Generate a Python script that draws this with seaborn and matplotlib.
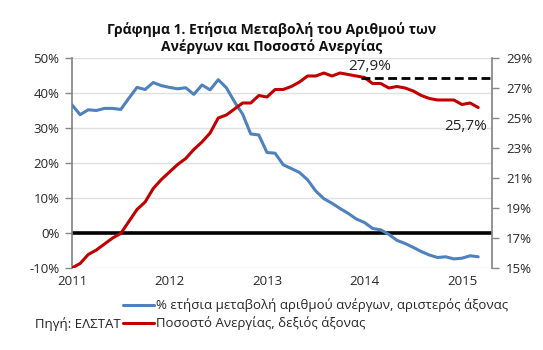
import matplotlib
matplotlib.use("Agg")
import matplotlib.pyplot as plt
import seaborn as sns
import pandas as pd
import numpy as np
from matplotlib.lines import Line2D

# ---------------- data ----------------
year_labels = ["2011", "2012", "2013", "2014", "2015"]
months = list(range(51))  # Jan 2011 .. Mar 2015

change_pct = [36.6, 33.8, 35.2, 35.0, 35.6, 35.6, 35.3, 38.5, 41.6, 41.0,
              43.0, 42.1, 41.6, 41.2, 41.5, 39.6, 42.3, 40.9, 43.8, 41.5,
              37.5, 34.0, 28.3, 28.0, 23.0, 22.8, 19.5, 18.4, 17.3, 15.2,
              12.0, 9.8, 8.5, 7.0, 5.6, 4.0, 3.0, 1.3, 0.9, -0.4,
              -2.1, -3.0, -4.1, -5.3, -6.3, -7.0, -6.8, -7.4, -7.2, -6.5,
              -6.8]

unemp_rate = [15.0, 15.3, 15.9, 16.2, 16.6, 17.0, 17.3, 18.1, 18.9, 19.4,
              20.3, 20.9, 21.4, 21.9, 22.3, 22.9, 23.4, 24.0, 25.0, 25.2,
              25.6, 26.0, 26.0, 26.5, 26.4, 26.9, 26.9, 27.1, 27.4, 27.8,
              27.8, 28.0, 27.8, 28.0, 27.9, 27.8, 27.7, 27.3, 27.3, 27.0,
              27.1, 27.0, 26.8, 26.5, 26.3, 26.2, 26.2, 26.2, 25.9, 26.0,
              25.7]

peak_level = 27.7          # dashed reference level (right axis)
peak_month = 35.6
peak_label = "27,9%"
last_label = "25,7%"

label_change = "% ετήσια μεταβολή αριθμού ανέργων, αριστερός άξονας"
label_rate = "Ποσοστό Ανεργίας, δεξιός άξονας"
source_text = "Πηγή: ΕΛΣΤΑΤ"
title = "Γράφημα 1. Ετήσια Μεταβολή του Αριθμού των\nΑνέργων και Ποσοστό Ανεργίας"

df = pd.DataFrame({"month": months, "change": change_pct, "rate": unemp_rate})

# ---------------- style ----------------
sns.set_theme(style="white")
plt.rcParams["font.family"] = ["Open Sans", "DejaVu Sans"]

blue = "#4F81BD"
red = "#C00000"
grid_c = "#E0E0E0"
spine_c = "#868686"
tick_fs = 9.5

fig = plt.figure(figsize=(5.43, 3.5), dpi=100)
ax = fig.add_axes([72 / 543, 1 - 268 / 350, (492 - 72) / 543, (268 - 58) / 350])
ax2 = ax.twinx()

# left axis
ax.set_ylim(-10, 50)
ax.set_yticks(np.arange(-10, 51, 10))
ax.set_yticklabels([f"{v}%" for v in range(-10, 51, 10)], fontsize=tick_fs)
ax.set_xlim(0, 51.7)
ax.set_xticks([0, 12, 24, 36, 48])
ax.set_xticklabels(year_labels, fontsize=tick_fs)
ax.tick_params(axis="x", length=0, pad=5)
ax.tick_params(axis="y", length=5, width=1, color=spine_c, direction="out", pad=4)
ax.grid(axis="y", color=grid_c, lw=1)
ax.set_axisbelow(True)
for s in ["top", "bottom", "right"]:
    ax.spines[s].set_visible(False)
ax.spines["left"].set_color(spine_c)

ax.axhline(0, color="black", lw=2.6, zorder=2)

sns.lineplot(data=df, x="month", y="change", ax=ax, color=blue, lw=2.2, zorder=3)
ax.set_xlabel("")
ax.set_ylabel("")

# right axis
ax2.set_ylim(15, 29)
ax2.set_yticks(np.arange(15, 30, 2))
ax2.set_yticklabels([f"{v}%" for v in range(15, 30, 2)], fontsize=tick_fs)
ax2.tick_params(axis="y", length=5, width=1, color=spine_c, direction="out", pad=5)
for s in ["top", "bottom", "left"]:
    ax2.spines[s].set_visible(False)
ax2.spines["right"].set_color(spine_c)
ax2.grid(False)

sns.lineplot(data=df, x="month", y="rate", ax=ax2, color=red, lw=2.2, zorder=3)
ax2.set_xlabel("")
ax2.set_ylabel("")
ax2.set_xlim(0, 51.7)

ax2.plot([peak_month, 51.7], [peak_level, peak_level], color="black", lw=2.0,
         ls=(0, (3.2, 1.6)), zorder=4, clip_on=False)

ax2.text(36.6, 28.45, peak_label, ha="center", va="center", fontsize=11, color="#222222")
ax2.text(48.5, 24.4, last_label, ha="center", va="center", fontsize=11, color="#222222")

fig.text(0.5, 1 - 38 / 350, title, ha="center", va="center", fontsize=10,
         fontweight="bold", linespacing=1.25, color="#111111")

handles = [Line2D([], [], color=blue, lw=2.2), Line2D([], [], color=red, lw=2.2)]
fig.legend(handles, [label_change, label_rate], loc="upper left",
           bbox_to_anchor=(116 / 543, 1 - 292 / 350), frameon=False, fontsize=9.5,
           handlelength=2.4, handletextpad=0.15, labelspacing=0.3, borderpad=0)
fig.text(35 / 543, 1 - 324 / 350, source_text, ha="left", va="center", fontsize=9.5,
         color="#222222")

fig.savefig("out.png", dpi=100)
